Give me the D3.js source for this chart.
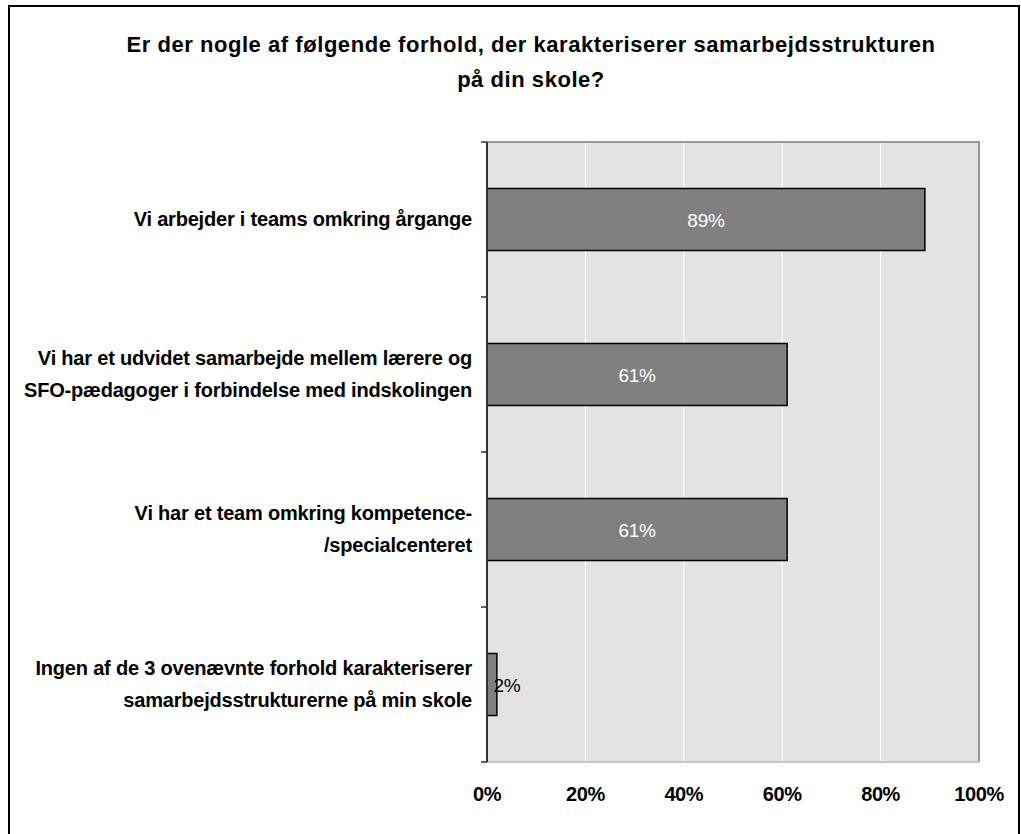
<!DOCTYPE html>
<html>
<head>
<meta charset="utf-8">
<script src="https://cdn.jsdelivr.net/npm/d3@7"></script>
<style>
  body { margin: 0; background: #fff; }
  text { font-family: "Liberation Sans", Arial, sans-serif; }
</style>
</head>
<body>
<div id="chart"></div>
<script>
// data
var titleLines = ["Er der nogle af følgende forhold, der karakteriserer samarbejdsstrukturen", "på din skole?"];
var categories = [
    ["Vi arbejder i teams omkring årgange"],
    ["Vi har et udvidet samarbejde mellem lærere og", "SFO-pædagoger i forbindelse med indskolingen"],
    ["Vi har et team omkring kompetence-", "/specialcenteret"],
    ["Ingen af de 3 ovenævnte forhold karakteriserer", "samarbejdsstrukturerne på min skole"]
];
var values = [0.89, 0.61, 0.61, 0.02];
var xTicks = [0, 0.2, 0.4, 0.6, 0.8, 1.0];

var width = 1021, height = 834;
var margin = {top: 142, right: 42, bottom: 72, left: 487};
var innerW = width - margin.left - margin.right;
var innerH = height - margin.top - margin.bottom;

var svg = d3.select("#chart").append("svg")
    .attr("width", width)
    .attr("height", height);

// outer frame
svg.append("rect")
    .attr("x", 9).attr("y", 6)
    .attr("width", 1010).attr("height", 840)
    .attr("fill", "none")
    .attr("stroke", "#000")
    .attr("stroke-width", 2);

// title
svg.append("text")
    .attr("x", 531).attr("y", 52)
    .attr("text-anchor", "middle")
    .style("font-weight", "bold")
    .style("font-size", "22px")
    .style("letter-spacing", "0.55px")
    .selectAll("tspan")
    .data(titleLines)
    .enter().append("tspan")
        .attr("x", 531)
        .attr("dy", function(d, i) { return i ? 35 : 0; })
        .text(function(d) { return d; });

var g = svg.append("g")
    .attr("transform", "translate(" + margin.left + "," + margin.top + ")");

var x = d3.scaleLinear().domain([0, 1]).range([0, innerW]);
var y = d3.scaleBand()
    .domain(d3.range(categories.length))
    .range([0, innerH])
    .paddingInner(0.6)
    .paddingOuter(0.3);

// plot background
g.append("rect")
    .attr("width", innerW).attr("height", innerH)
    .attr("fill", "#e3e3e3");

// white gridlines
g.selectAll(".grid")
    .data(xTicks.slice(1, -1))
    .enter().append("line")
        .attr("x1", function(d) { return x(d); })
        .attr("x2", function(d) { return x(d); })
        .attr("y1", 0).attr("y2", innerH)
        .attr("stroke", "#fff")
        .attr("stroke-width", 1);

// plot border (top/right gray, bottom lighter)
g.append("path")
    .attr("d", "M0,0H" + innerW + "V" + innerH)
    .attr("fill", "none")
    .attr("stroke", "#999")
    .attr("stroke-width", 2);
g.append("line")
    .attr("x1", 0).attr("x2", innerW)
    .attr("y1", innerH).attr("y2", innerH)
    .attr("stroke", "#c4c4c4")
    .attr("stroke-width", 2);

// bars
g.selectAll(".bar")
    .data(values)
    .enter().append("rect")
        .attr("class", "bar")
        .attr("x", x(0))
        .attr("y", function(d, i) { return y(i); })
        .attr("width", function(d) { return x(d) - x(0); })
        .attr("height", y.bandwidth())
        .attr("fill", "#808080")
        .attr("stroke", "#000")
        .attr("stroke-width", 1.5);

// value labels
g.selectAll(".val")
    .data(values)
    .enter().append("text")
        .attr("x", function(d) { return Math.max(x(d) / 2, 20); })
        .attr("y", function(d, i) { return y(i) + y.bandwidth() / 2 + 7; })
        .attr("text-anchor", "middle")
        .style("font-size", "19px")
        .style("letter-spacing", "-0.3px")
        .attr("fill", function(d) { return x(d) > 40 ? "#fff" : "#000"; })
        .text(function(d) { return Math.round(d * 100) + "%"; });

// left axis with ticks at band boundaries
var step = innerH / categories.length;
g.append("line")
    .attr("x1", 0).attr("x2", 0)
    .attr("y1", 0).attr("y2", innerH)
    .attr("stroke", "#333")
    .attr("stroke-width", 2);
g.selectAll(".ytick")
    .data(d3.range(categories.length + 1))
    .enter().append("line")
        .attr("x1", -6).attr("x2", 0)
        .attr("y1", function(d) { return d * step; })
        .attr("y2", function(d) { return d * step; })
        .attr("stroke", "#333")
        .attr("stroke-width", 1.5);

// category labels
var labels = g.selectAll(".cat")
    .data(categories)
    .enter().append("text")
        .attr("class", "cat")
        .attr("text-anchor", "end")
        .style("font-weight", "bold")
        .style("font-size", "20px")
        .style("letter-spacing", "-0.2px")
        .attr("transform", function(d, i) {
            return "translate(-15," + (y(i) + y.bandwidth() / 2) + ")";
        });
labels.selectAll("tspan")
    .data(function(d) { return d.map(function(t, j) { return {t: t, j: j, n: d.length}; }); })
    .enter().append("tspan")
        .attr("x", 0)
        .attr("y", function(d) { return 6 + (d.j - (d.n - 1) / 2) * 32; })
        .text(function(d) { return d.t; });

// x axis labels
g.selectAll(".xlab")
    .data(xTicks)
    .enter().append("text")
        .attr("x", function(d) { return x(d); })
        .attr("y", innerH + 39)
        .attr("text-anchor", "middle")
        .style("font-weight", "bold")
        .style("font-size", "20px")
        .style("letter-spacing", "-0.4px")
        .text(d3.format(".0%"));
</script>
</body>
</html>
